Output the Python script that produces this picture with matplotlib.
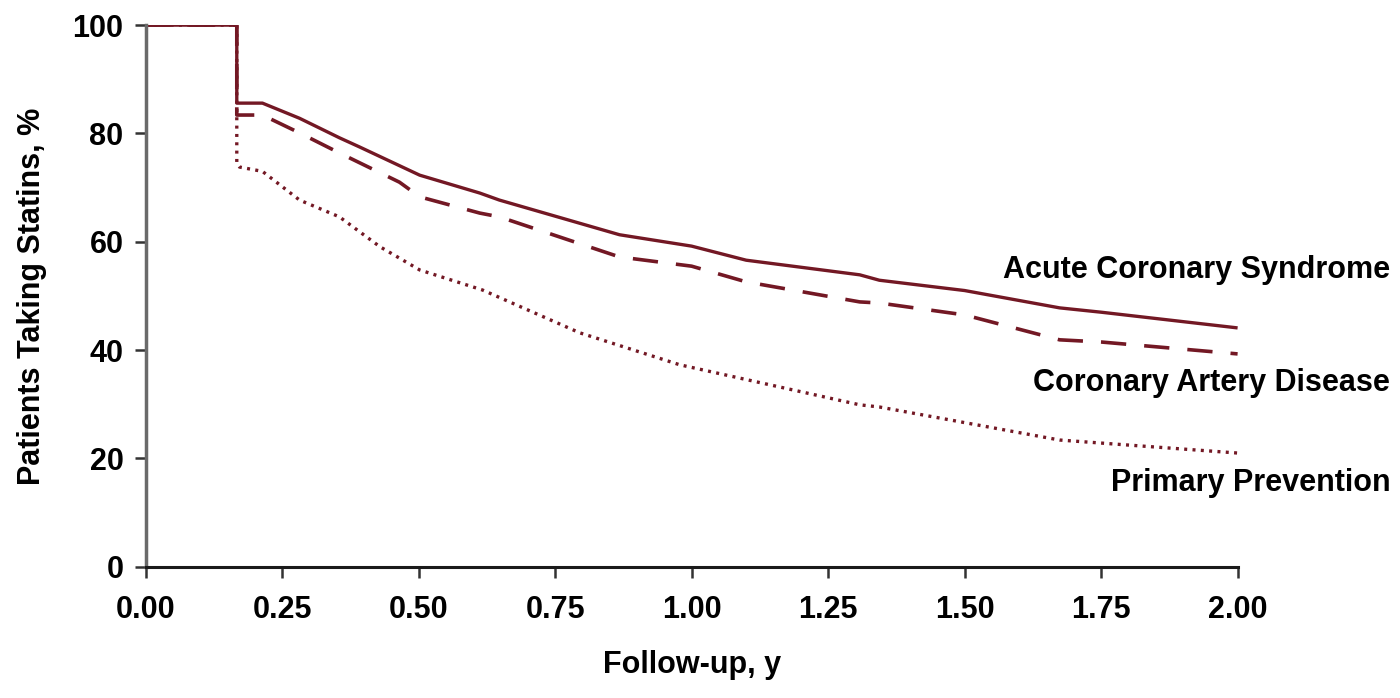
import matplotlib.pyplot as plt

plt.rcParams['font.family'] = ['Liberation Sans', 'DejaVu Sans']
plt.rcParams['font.weight'] = 'bold'

# Follow-up time (y) and % of patients still taking statins
acs_x = [0.0, 0.167, 0.167, 0.214, 0.282, 0.355, 0.392, 0.502, 0.612, 0.648,
         0.868, 1.00, 1.10, 1.308, 1.344, 1.50, 1.674, 1.75, 2.0]
acs_y = [100, 100, 85.6, 85.6, 82.8, 79.2, 77.5, 72.3, 69.0, 67.7,
         61.3, 59.2, 56.6, 53.9, 52.9, 51.0, 47.8, 47.0, 44.1]

cad_x = [0.0, 0.167, 0.167, 0.214, 0.282, 0.355, 0.465, 0.502, 0.612, 0.648,
         0.868, 1.00, 1.10, 1.308, 1.344, 1.50, 1.674, 1.75, 2.0]
cad_y = [100, 100, 83.4, 83.4, 80.1, 76.4, 71.0, 68.3, 65.3, 64.6,
         57.2, 55.5, 52.6, 48.9, 48.7, 46.5, 41.9, 41.5, 39.3]

pp_x = [0.0, 0.167, 0.167, 0.172, 0.214, 0.282, 0.355, 0.429, 0.502, 0.617,
        0.795, 0.978, 1.161, 1.308, 1.344, 1.674, 2.0]
pp_y = [100, 100, 74.5, 73.8, 73.0, 67.7, 64.6, 59.1, 54.8, 51.1,
        43.2, 37.3, 33.2, 29.9, 29.5, 23.4, 21.0]

labels = ['Acute Coronary Syndrome', 'Coronary Artery Disease', 'Primary Prevention']
x_ticks = [0.0, 0.25, 0.5, 0.75, 1.0, 1.25, 1.5, 1.75, 2.0]
y_ticks = [0, 20, 40, 60, 80, 100]

color = '#731824'
fs = 22

fig = plt.figure(figsize=(14, 6.98), dpi=100)
ax = fig.add_axes([0.104, 0.188, 0.780, 0.776])

ax.plot(pp_x, pp_y, color=color, lw=2.4, linestyle=(0, (0.9, 1.6)))
ax.plot(cad_x, cad_y, color=color, lw=2.6, linestyle=(0, (7, 5)))
ax.plot(acs_x, acs_y, color=color, lw=2.4, solid_capstyle='butt')

ax.set_xlim(0, 2.0)
ax.set_ylim(0, 100)
ax.set_xticks(x_ticks)
ax.set_xticklabels([f'{v:.2f}' for v in x_ticks])
ax.set_yticks(y_ticks)

for s in ['top', 'right']:
    ax.spines[s].set_visible(False)
ax.spines['left'].set_color('#6a6a6a')
ax.spines['left'].set_linewidth(2.5)
ax.spines['bottom'].set_color('#1a1a1a')
ax.spines['bottom'].set_linewidth(2.2)

ax.tick_params(axis='both', labelsize=fs, width=1.8, length=8, direction='out', color='#333333')
ax.tick_params(axis='x', pad=12)
ax.tick_params(axis='y', pad=8)

ax.set_xlabel('Follow-up, y', fontsize=fs, fontweight='bold', labelpad=18)
ax.set_ylabel('Patients Taking Statins, %', fontsize=fs, fontweight='bold', labelpad=18)

label_y = [0.613, 0.451, 0.308]
for txt, yy in zip(labels, label_y):
    fig.text(0.993, yy, txt, ha='right', va='center', fontsize=fs, fontweight='bold')

fig.savefig('out.png', dpi=100)
